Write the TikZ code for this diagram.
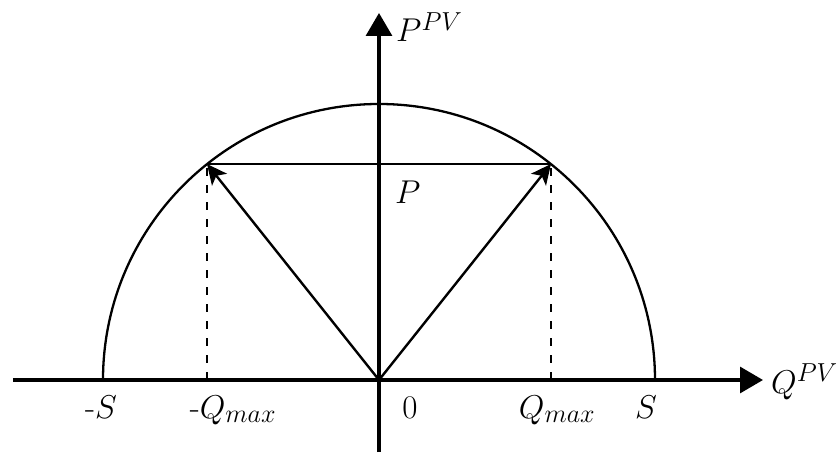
\RequirePackage{fix-cm}
\documentclass[tikz,border=0pt]{standalone}
\usetikzlibrary{arrows.meta}
\DeclareMathSizes{33}{33}{26}{20}
\begin{document}
\begin{tikzpicture}[x=1pt,y=1pt,
  axis/.style={line width=3.2pt,-{Triangle[length=23pt,width=26pt]}},
  vec/.style={line width=2.4pt,-{Stealth[length=20pt,width=19pt,inset=5pt]}},
  thin line/.style={line width=2.3pt},
  dash line/.style={line width=2.8pt,dash pattern=on 8pt off 9pt},
  lab/.style={inner sep=0pt,anchor=base,font=\fontsize{33}{38}\selectfont}]
\useasboundingbox (-379,-72) rectangle (458,380);
\coordinate (O) at (0,0);
\coordinate (L) at (-366,0);
\coordinate (Rt) at (384,0);
\coordinate (D) at (0,-72);
\coordinate (U) at (0,367);
\coordinate (A) at (172,216);
\coordinate (B) at (-172,216);
\coordinate (Ab) at (172,0);
\coordinate (Bb) at (-172,0);
% semicircle
\draw[thin line] (276,0) arc[start angle=0,end angle=180,radius=276];
% P line
\draw[line width=2.8pt] (B) -- (A);
% dashed verticals
\draw[dash line] (Ab) -- (A);
\draw[dash line] (Bb) -- (B);
% axes
\draw[axis] (L) -- (Rt);
\draw[axis] (D) -- (U);
% vectors
\draw[vec] (O) -- (A);
\draw[vec] (O) -- (B);
% labels
\node[lab,anchor=base west] (ppv) at (17,338) {$P^{PV}$};
\node[lab,anchor=base west] (qpv) at (392,-13) {$Q^{PV}$};
\node[lab,anchor=base west] (p) at (16,176) {$P$};
\node[lab] (ms) at (-278,-38) {-$S$};
\node[lab] (mq) at (-146,-38) {-$Q_{max}$};
\node[lab] (z) at (31,-38) {$0$};
\node[lab] (q) at (178,-38) {$Q_{max}$};
\node[lab] (s) at (267,-38) {$S$};
\end{tikzpicture}
\end{document}
